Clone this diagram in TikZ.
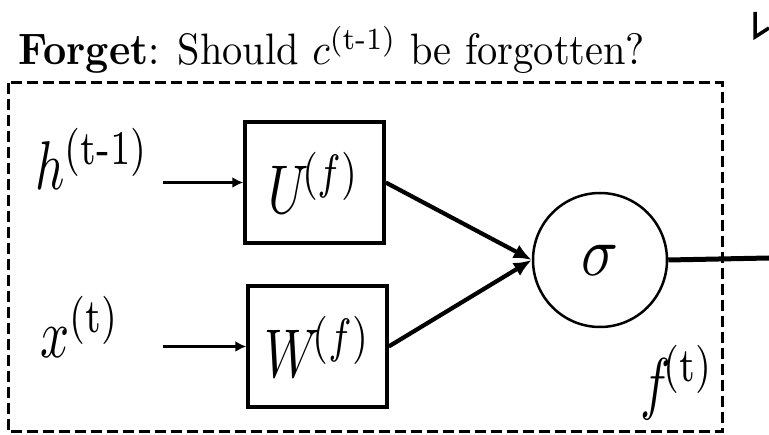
\documentclass[tikz,border=0pt]{standalone}
\usepackage{amsmath}
\usepackage{graphicx}
\usetikzlibrary{arrows.meta}
\newcommand{\ttl}[1]{\scalebox{4.04}[4.4]{#1}}
\newcommand{\lab}[1]{\scalebox{5.1}[6.9]{#1}}
\newcommand{\glab}[1]{\scalebox{6.1}[7.0]{#1}}
\newcommand{\tm}{\mathrm{t}\text{-}\mathrm{1}}
\tikzset{
  blk/.style={draw, line width=3.5pt, minimum width=139pt, minimum height=121pt, inner sep=0pt},
  gate/.style={draw, circle, line width=2.5pt, minimum size=134pt, inner sep=0pt},
  lbl/.style={anchor=base west, inner sep=0pt},
  inarrow/.style={line width=3.5pt, -{Latex[length=11pt,width=11pt]}},
  convarrow/.style={line width=4.2pt, -{Latex[length=18pt,width=15pt]}},
}
\begin{document}
\begin{tikzpicture}[x=1pt,y=-1pt]
\useasboundingbox (0,0) rectangle (769,435);
% title
\node[lbl] (title) at (18,65)
  {\ttl{\textbf{Forget}: Should $c^{(\tm)}$ be forgotten?}};
% dashed frame
\draw[line width=3pt, dash pattern=on 11pt off 5pt] (8,83) rectangle (722,432);
% partial mark top right
\draw[line width=3.5pt] (755,12) -- (755,37) -- (769,28);
% labels
\node[lbl] (hlab) at (35,190) {\lab{$h^{(\tm)}$}};
\node[lbl] (xlab) at (40,358) {\lab{$x^{(\mathrm{t})}$}};
\node[lbl] (flab) at (640,407) {\lab{$f^{\!(\mathrm{t})}$}};
% blocks
\node[blk] (U) at (314.5,182.5) {\lab{$U^{\!(f)}$}};
\node[blk] (W) at (317.5,346.5) {\lab{$W^{\!(f)}$}};
\node[gate] (sig) at (600,260) {\glab{$\sigma$}};
% connectors
\coordinate (hs) at (163,182.5);
\coordinate (xs) at (163,346.5);
\coordinate (out) at (769,258);
\draw[inarrow] (hs) -- (U.west);
\draw[inarrow] (xs) -- (W.west);
\draw[convarrow] (U.east) -- (sig.west);
\draw[convarrow] (W.east) -- (sig.west);
\draw[line width=5pt] (sig.east) -- (out);
\end{tikzpicture}
\end{document}
